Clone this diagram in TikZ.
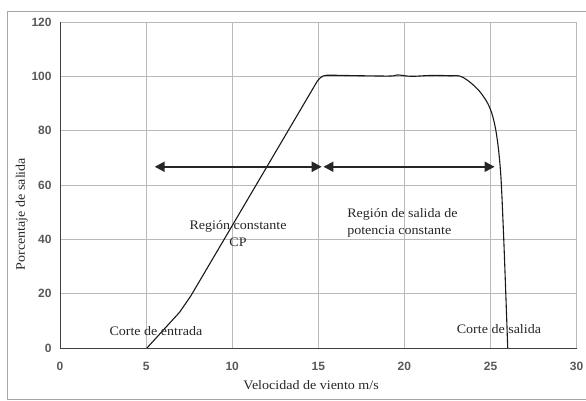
\documentclass[tikz,border=0pt]{standalone}
\usepackage{fontspec}
\setmainfont{Liberation Serif}[FakeStretch=1.08]
\setsansfont{Liberation Sans}
\usetikzlibrary{arrows.meta}
\tikzset{
  rejilla/.style={gray!55,line width=0.7pt},
  ejes/.style={black!75,line width=0.9pt},
  curva/.style={black!90,line width=1.1pt,line join=round},
  flecha/.style={black!85,line width=2pt,{Triangle[length=10pt,width=10pt]}-{Triangle[length=10pt,width=10pt]}},
  marca/.style={font=\sffamily\bfseries\fontsize{12}{14}\selectfont,text=black!65,inner sep=1pt},
  rotulo/.style={text=black!85,inner sep=0pt,align=center}
}
\begin{document}
\begin{tikzpicture}[x=17.22pt,y=2.717pt,font=\fontsize{13}{17}\selectfont]
				\useasboundingbox (-60pt,-53pt) rectangle (526pt,348pt);
				% marco exterior
				\draw[gray!70,line width=0.8pt] (526pt,337pt) -- (-53pt,337pt) -- (-53pt,-51pt) -- (526pt,-51pt);
				% rejilla
				\draw[rejilla] (0,0) grid[xstep=5,ystep=20] (30,120);
				\draw[ejes] (0,120) -- (0,0) -- (30,0);
				\foreach \x in {0,5,...,30}
					\node[marca] (x\x) at (\x,-6.6) {\x};
				\foreach \y in {0,20,...,120}
					\node[marca,anchor=east] (y\y) at (-0.42,\y) {\y};
				% curva de potencia
				\draw[curva] (5.05,0) -- (6.95,13.2) -- (7.6,19.2) -- (14.95,98.3)
					.. controls (15.25,100.4) .. (15.8,100.4)
					-- plot[smooth,tension=0.6] coordinates {(15.8,100.4) (17.5,100.2) (19.2,100.1) (19.6,100.5) (20.4,100) (21.5,100.3) (22.6,100.2) (23.4,99.6) (24.46,93.7) (25.14,85) (25.53,69) (25.74,44.6) (26.0,0)};
				% regiones
				\coordinate (a1) at (5.5,66.7);
				\coordinate (a2) at (15.2,66.7);
				\coordinate (b1) at (15.3,66.7);
				\coordinate (b2) at (25.24,66.7);
				\draw[flecha] (a1) -- (a2);
				\draw[flecha] (b1) -- (b2);
				\node[rotulo] (cp) at (10.34,42.1) {Región constante\\CP};
				\node[rotulo,anchor=west,align=left] (pc) at (16.67,46.2) {Región de salida de\\potencia constante};
				\node[rotulo] (ce) at (5.57,6.26) {Corte de entrada};
				\node[rotulo] (cs) at (25.49,7.0) {Corte de salida};
				% ejes
				\node[rotulo] (ex) at (14.58,-13.6) {Velocidad de viento m/s};
				\node[rotulo,rotate=90] (ey) at (-2.22,49.3) {Porcentaje de salida};
			\end{tikzpicture}
\end{document}
